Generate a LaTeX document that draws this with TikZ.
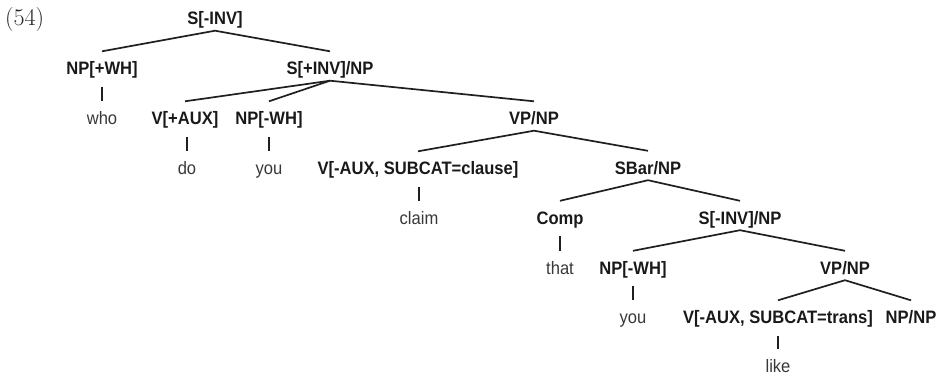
\documentclass[tikz,border=0pt]{standalone}
\usepackage{fontspec}
\newfontfamily\treefont[FakeStretch=0.92]{Liberation Sans}
\usepackage{tikz}
\usetikzlibrary{positioning}

\begin{document}
\begin{tikzpicture}[
    x=1pt, y=-1pt,
    cat/.style={anchor=base, inner sep=0pt, text height=23pt, text depth=6pt, font=\treefont\bfseries\fontsize{18}{20}\selectfont, text=black!90},
    word/.style={anchor=base, inner sep=0pt, text height=23pt, text depth=6pt, font=\treefont\fontsize{18}{20}\selectfont, text=black!78},
    branch/.style={line width=1.7pt, black!88},
    bar/.style={line width=2.3pt, black!88, shorten <=6pt}
]
    \useasboundingbox (0,0) rectangle (942,376);

    % Example number
    \node[anchor=base west, inner sep=0pt, font=\fontsize{24}{26}\selectfont, text=black!85] (num) at (5,25.5) {(54)};

    % Categories
    \node[cat] (root) at (215,24.5) {S[-INV]};
    \node[cat] (npwh) at (102,74.5) {NP[+WH]};
    \node[cat] (sinv) at (330,74.5) {S[+INV]/NP};
    \node[cat] (vaux) at (185,124.5) {V[+AUX]};
    \node[cat] (npnwh) at (269,124.5) {NP[-WH]};
    \node[cat] (vp) at (534,124.5) {VP/NP};
    \node[cat] (vcl) at (418,174.5) {V[-AUX, SUBCAT=clause]};
    \node[cat] (sbar) at (648,174) {SBar/NP};
    \node[cat] (comp) at (560,224) {Comp};
    \node[cat] (sninv) at (740,224) {S[-INV]/NP};
    \node[cat] (npnwhb) at (633,274) {NP[-WH]};
    \node[cat] (vpb) at (845,274) {VP/NP};
    \node[cat] (vtr) at (778,323.5) {V[-AUX, SUBCAT=trans]};
    \node[cat] (npnp) at (911,323.5) {NP/NP};

    % Words
    \node[word] (who) at (102,124.5) {who};
    \node[word] (do) at (187,174.5) {do};
    \node[word] (you) at (269,174.5) {you};
    \node[word] (claim) at (419,224) {claim};
    \node[word] (that) at (560,274) {that};
    \node[word] (youb) at (633,323.5) {you};
    \node[word] (like) at (778,372.5) {like};

    % Branches
    \draw[branch] (npwh.north) -- (root.south) -- (sinv.north);
    \draw[branch] (vaux.north) -- (sinv.south) -- (vp.north);
    \draw[branch] (sinv.south) -- (npnwh.north);
    \draw[branch] (vcl.north) -- (vp.south) -- (sbar.north);
    \draw[branch] (comp.north) -- (sbar.south) -- (sninv.north);
    \draw[branch] (npnwhb.north) -- (sninv.south) -- (vpb.north);
    \draw[branch] (vtr.north) -- (vpb.south) -- (npnp.north);

    % Lexical bars
    \draw[bar] (npwh.south) -- (who.north);
    \draw[bar] (vaux.south -| do) -- (do.north);
    \draw[bar] (npnwh.south) -- (you.north);
    \draw[bar] (vcl.south -| claim) -- (claim.north);
    \draw[bar] (comp.south) -- (that.north);
    \draw[bar] (npnwhb.south) -- (youb.north);
    \draw[bar] (vtr.south) -- (like.north);
\end{tikzpicture}
\end{document}
